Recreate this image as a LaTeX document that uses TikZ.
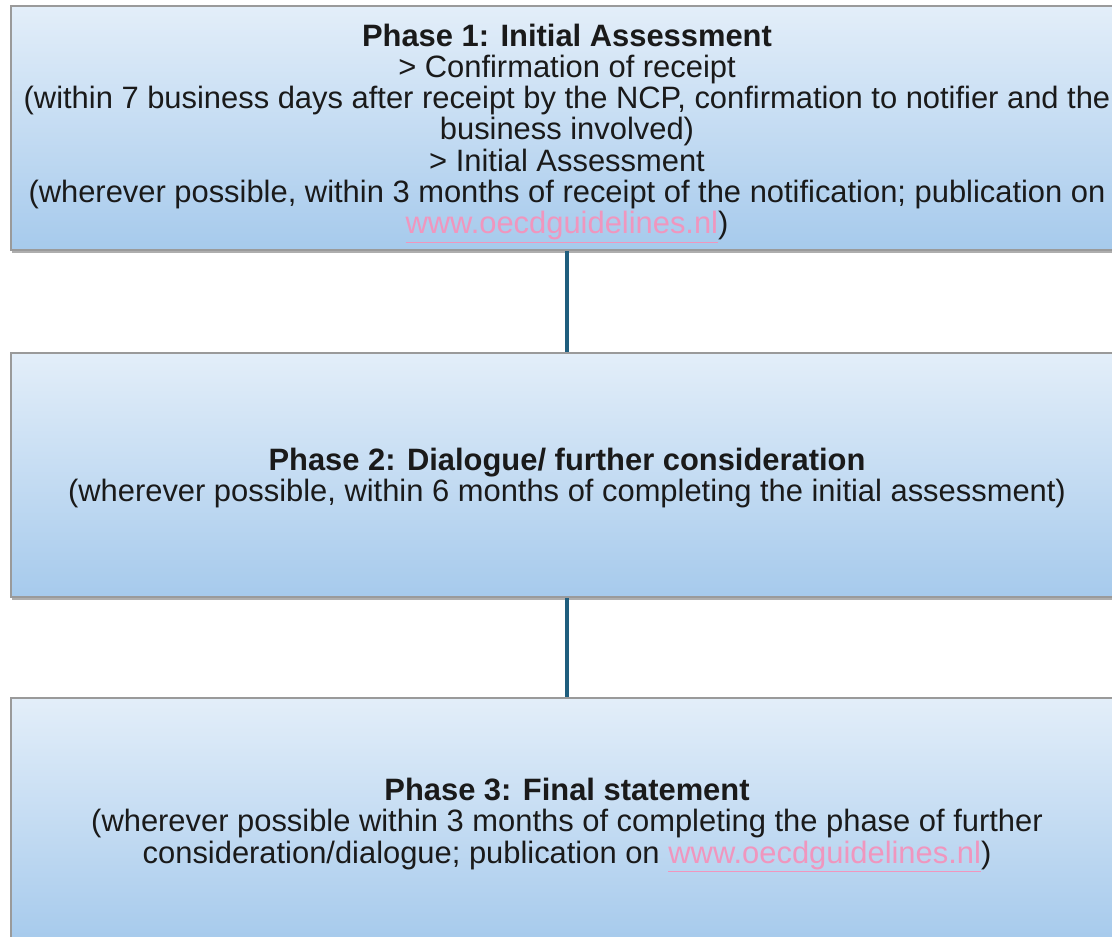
\documentclass[tikz,border=0pt]{standalone}
\usepackage{fontspec}
\setmainfont{Liberation Sans}
\usetikzlibrary{shadows}
\definecolor{boxtop}{HTML}{E3EEF9}
\definecolor{boxbot}{HTML}{A6CAEC}
\definecolor{boxline}{HTML}{9A9A9A}
\definecolor{conn}{HTML}{1F5E7E}
\definecolor{linkpink}{HTML}{F096BE}
\definecolor{txt}{HTML}{1A1A1A}
\newcommand{\oecdlink}{\textcolor{linkpink}{\underline{www.oecdguidelines.nl}}}
\tikzset{
  phasebox/.style={rectangle, draw=boxline, line width=1.5pt, top color=boxtop, bottom color=boxbot,
    minimum width=1112pt, minimum height=244pt, inner sep=0pt,
    drop shadow={shadow xshift=1pt, shadow yshift=-3pt, opacity=0.45, fill=black!70}},
  phasetext/.style={inner sep=0pt, align=center, text=txt,
    font=\fontsize{30.9}{31.3}\selectfont},
  connector/.style={draw=conn, line width=4.5pt}
}
\begin{document}
\begin{tikzpicture}[x=1pt,y=-1pt]
\useasboundingbox (0,0) rectangle (1112,937);
\fill[white] (0,0) rectangle (1112,937);
\node[phasebox] (p1) at (567,128) {};
\node[phasebox] (p2) at (567,475) {};
\node[phasebox] (p3) at (567,820) {};
\node[phasetext] (p1t) at ([yshift=-5pt]p1.center) {\textbf{Phase 1: Initial Assessment}\\
> Confirmation of receipt\\
(within 7 business days after receipt by the NCP, confirmation to notifier and the\\
business involved)\\
> Initial Assessment\\
(wherever possible, within 3 months of receipt of the notification; publication on\\
\oecdlink)};
\node[phasetext] (p2t) at ([yshift=-3pt]p2.center) {\textbf{Phase 2: Dialogue/ further consideration}\\
(wherever possible, within 6 months of completing the initial assessment)};
\node[phasetext] (p3t) at ([yshift=-5pt]p3.center) {\textbf{Phase 3: Final statement}\\
(wherever possible within 3 months of completing the phase of further\\
consideration/dialogue; publication on \oecdlink)};
\draw[connector] (p1.south) -- (p2.north);
\draw[connector] (p2.south) -- (p3.north);
\end{tikzpicture}
\end{document}
